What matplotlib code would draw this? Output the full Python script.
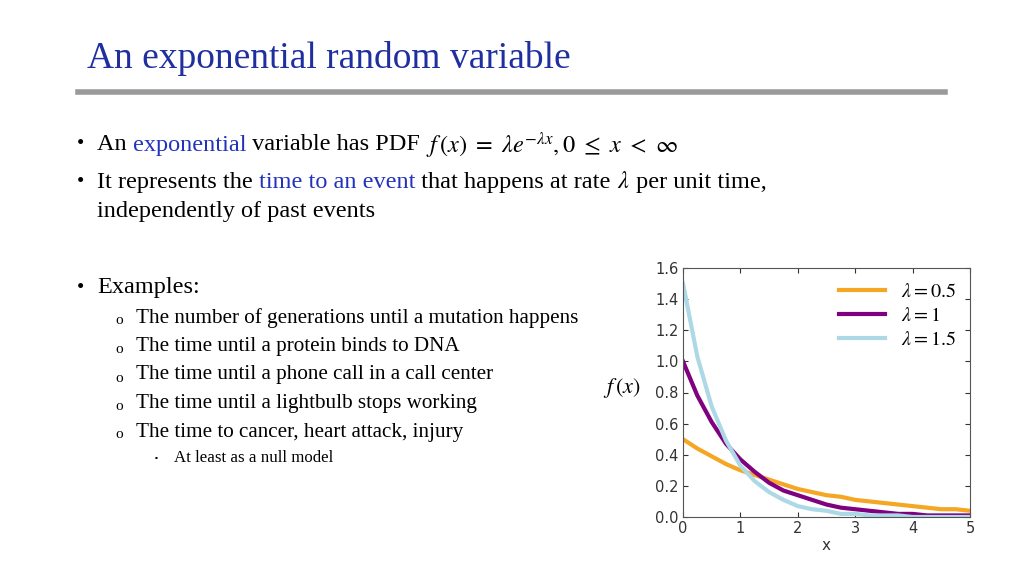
import matplotlib
matplotlib.use("Agg")
import matplotlib.pyplot as plt
import numpy as np

x_vals = [0, 0.25, 0.5, 0.75, 1, 1.25, 1.5, 1.75, 2, 2.25, 2.5, 2.75, 3, 3.25, 3.5, 3.75, 4, 4.25, 4.5, 4.75, 5]
lam05 = [0.50, 0.44, 0.39, 0.34, 0.30, 0.27, 0.24, 0.21, 0.18, 0.16, 0.14, 0.13, 0.11, 0.10, 0.09, 0.08, 0.07, 0.06, 0.05, 0.05, 0.04]
lam1 = [1.00, 0.78, 0.61, 0.47, 0.37, 0.29, 0.22, 0.17, 0.14, 0.11, 0.08, 0.06, 0.05, 0.04, 0.03, 0.02, 0.02, 0.01, 0.01, 0.01, 0.01]
lam15 = [1.50, 1.03, 0.71, 0.49, 0.33, 0.23, 0.16, 0.11, 0.07, 0.05, 0.04, 0.02, 0.02, 0.01, 0.01, 0.01, 0.00, 0.00, 0.00, 0.00, 0.00]
labels = [r"$\lambda=0.5$", r"$\lambda=1$", r"$\lambda=1.5$"]
colors = ["#f5a623", "#800080", "#add8e6"]

plt.rcParams["mathtext.fontset"] = "stix"
fig = plt.figure(figsize=(10.24, 5.76), dpi=100)
W, H = 1024, 576
serif = "Liberation Serif"
blue = "#2233bb"

fig.text(87/W, 1-58/H, "An exponential random variable", fontsize=27, family=serif, color="#1f2f9f", va="center")
fig.add_artist(plt.Line2D([78/W, 945/W], [1-92/H]*2, color="#9a9a9a", lw=4))

def line(x, y, parts, size):
    cx = x
    r = fig.canvas.get_renderer()
    for s, c in parts:
        tt = fig.text(cx/W, 1-y/H, s, fontsize=size, family=serif, color=c, va="center")
        bb = tt.get_window_extent(renderer=r)
        cx += bb.width

fs = 17.5
fig.text(77/W, 1-145/H, "•", fontsize=15, family=serif, va="center")
line(97, 145, [("An ", "black"), ("exponential", blue), (" variable has PDF ", "black"),
               (r"$f\,(x)\ =\ \lambda e^{-\lambda x},0\ \leq\ x\ <\ \infty$", "black")], fs)
fig.text(77/W, 1-183/H, "•", fontsize=15, family=serif, va="center")
line(97, 183, [("It represents the ", "black"), ("time to an event", blue),
               (" that happens at rate ", "black"), (r"$\lambda$", "black"), (" per unit time,", "black")], fs)
fig.text(97/W, 1-211/H, "independently of past events", fontsize=fs, family=serif, va="center")
fig.text(77/W, 1-288/H, "•", fontsize=15, family=serif, va="center")
fig.text(97/W, 1-288/H, "Examples:", fontsize=fs, family=serif, va="center")
items = ["The number of generations until a mutation happens", "The time until a protein binds to DNA",
         "The time until a phone call in a call center", "The time until a lightbulb stops working",
         "The time to cancer, heart attack, injury"]
for i, s in enumerate(items):
    yy = 318 + i*28.5
    fig.text(115/W, 1-(yy+3)/H, "o", fontsize=11, family=serif, va="center")
    fig.text(136/W, 1-yy/H, s, fontsize=15.2, family=serif, va="center")
fig.text(155/W, 1-457/H, "▪", fontsize=6, family=serif, va="center")
fig.text(174/W, 1-458/H, "At least as a null model", fontsize=12.2, family=serif, va="center")

ax = fig.add_axes([683/W, 1-517/H, 287/W, 249/H])
for y, lab, c in zip([lam05, lam1, lam15], labels, colors):
    ax.plot(x_vals, y, color=c, lw=3, label=lab, solid_joinstyle="round")
ax.set_xlim(0, 5)
ax.set_ylim(0, 1.6)
ax.set_xticks(range(6))
ax.set_yticks([0, 0.2, 0.4, 0.6, 0.8, 1.0, 1.2, 1.4, 1.6])
ax.set_yticklabels(["0.0", "0.2", "0.4", "0.6", "0.8", "1.0", "1.2", "1.4", "1.6"])
ax.tick_params(direction="in", top=True, right=True, labelsize=10.5, colors="#333333", pad=3)
for sp in ax.spines.values():
    sp.set_color("#555555")
ax.set_xlabel("x", fontsize=11, color="#333333", labelpad=1)
fig.text(622/W, 1-388/H, r"$f\,(x)$", fontsize=16, ha="center", va="center")
ax.legend(loc="upper right", frameon=False, fontsize=14.5, handlelength=2.3, labelspacing=0.25,
          borderaxespad=0.3)

fig.savefig("out.png", dpi=100)
